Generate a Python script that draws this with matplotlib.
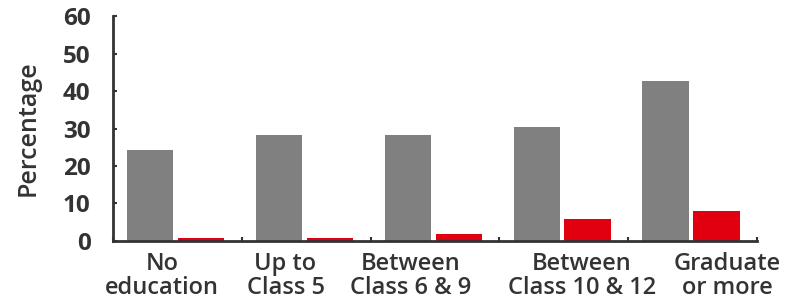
import numpy as np
import matplotlib.pyplot as plt

# Données
categories = ["No\neducation", "Up to\nClass 5", "Between\nClass 6 & 9",
              "Between\nClass 10 & 12", "Graduate\nor more"]
gris = [24.3, 28.2, 28.2, 30.5, 42.6]
rouge = [0.8, 0.8, 1.9, 5.8, 8.1]
yticks = [0, 10, 20, 30, 40, 50, 60]

plt.rcParams['font.family'] = ['Open Sans', 'DejaVu Sans']

fig = plt.figure(figsize=(8.04, 3.02), dpi=100)
ax = fig.add_axes([0.1405, 0.202, 0.801, 0.745])

x = np.arange(len(categories))
largeur = 0.36
ax.bar(x + 0.29, gris, largeur, color='#808080')
ax.bar(x + 0.685, rouge, largeur, color='#e0000f')

ax.set_xlim(0, 5)
ax.set_ylim(0, 60)

# petits traits aux limites des groupes
ax.set_xticks(np.arange(0, 6))
ax.set_xticklabels([])
ax.tick_params(axis='x', which='major', direction='in', length=3, width=1.5, color='#333333')
# étiquettes placées à la main (décalées comme sur l'original)
pos_labels = [0.38, 1.34, 2.31, 3.64, 4.77]
ax.set_xticks(pos_labels, minor=True)
ax.set_xticklabels(categories, minor=True, fontsize=17, fontweight='semibold',
                   color='#333333', linespacing=1.0, ha='center',
                   multialignment='center')
ax.tick_params(axis='x', which='minor', length=0, pad=8)

ax.set_yticks(yticks)
ax.set_yticklabels([str(v) for v in yticks], fontsize=17.5, fontweight='bold', color='#333333')
ax.tick_params(axis='y', direction='in', length=3, width=1.5, color='#333333', pad=16)

ax.set_ylabel("Percentage", fontsize=18, fontweight='semibold', color='#333333', labelpad=16)

for s in ['top', 'right']:
    ax.spines[s].set_visible(False)
for s in ['left', 'bottom']:
    ax.spines[s].set_color('#333333')
    ax.spines[s].set_linewidth(2)

fig.savefig('out.png', dpi=100)
